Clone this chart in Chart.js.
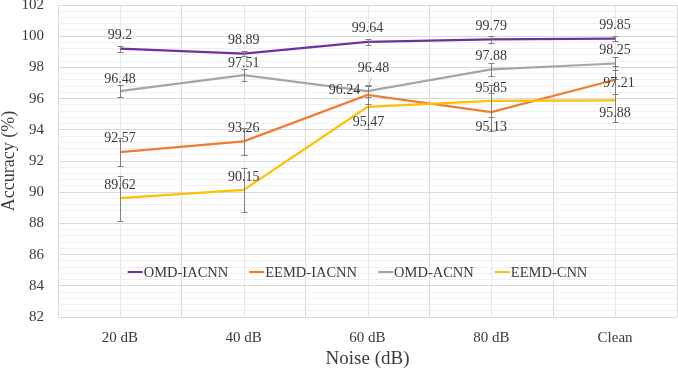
<!DOCTYPE html>
<html>
<head>
<meta charset="utf-8">
<script src="https://cdn.jsdelivr.net/npm/chart.js@4.4.1/dist/chart.umd.min.js"></script>
<style>
  html, body { margin: 0; padding: 0; background: #fff; }
</style>
</head>
<body>
<canvas id="chart" width="678" height="369"></canvas>
<script>
// Accuracy vs noise level, four models with error bars

const categories = ['20 dB', '40 dB', '60 dB', '80 dB', 'Clean'];
const yLabels = [82, 84, 86, 88, 90, 92, 94, 96, 98, 100, 102];

const omdIacnn = [99.2, 98.89, 99.64, 99.79, 99.85];
const eemdIacnn = [92.57, 93.26, 96.24, 95.13, 97.21];
const omdAcnn = [96.48, 97.51, 96.48, 97.88, 98.25];
const eemdCnn = [89.62, 90.15, 95.47, 95.85, 95.88];

// error bar half-lengths
const omdIacnnErr = [0.2, 0.15, 0.18, 0.2, 0.15];
const eemdIacnnErr = [0.9, 0.88, 0.6, 1.2, 0.9];
const omdAcnnErr = [0.36, 0.37, 0.35, 0.4, 0.4];
const eemdCnnErr = [1.45, 1.4, 1.4, 1.0, 1.4];

// data label placement, px offset from the point
const omdIacnnLab = [[0, -13], [0, -13], [0, -13], [0, -13], [0, -13]];
const eemdIacnnLab = [[0, -14], [0, -13], [-23, -5], [0, 15], [4, 4]];
const omdAcnnLab = [[0, -12], [0, -12], [6, -23], [0, -13], [0, -13]];
const eemdCnnLab = [[0, -13], [0, -13], [1, 15], [0, -13], [0, 13]];
const omdAcnnLeader = [null, null, [4, -14, 1, -5], null, null];

const SERIF = '"Liberation Serif", "Times New Roman", serif';
const TEXT = '#3a3a3a';

const series = [
  { name: 'OMD-IACNN', data: omdIacnn, err: omdIacnnErr, color: '#7030A0', lab: omdIacnnLab },
  { name: 'EEMD-IACNN', data: eemdIacnn, err: eemdIacnnErr, color: '#ED7D31', lab: eemdIacnnLab },
  { name: 'OMD-ACNN', data: omdAcnn, err: omdAcnnErr, color: '#A5A5A5', lab: omdAcnnLab, leader: omdAcnnLeader },
  { name: 'EEMD-CNN', data: eemdCnn, err: eemdCnnErr, color: '#FFC000', lab: eemdCnnLab }
];

const isMajor = (v) => {
  const r = Math.round(v);
  return Math.abs(v - r) < 1e-6 && yLabels.includes(r);
};

// vertical lines through the category centres (Excel minor gridlines)
const centerLines = {
  id: 'centerLines',
  beforeDatasetsDraw(chart) {
    const { ctx, chartArea } = chart;
    const x = chart.scales.x;
    ctx.save();
    ctx.strokeStyle = '#e6e6e6';
    ctx.lineWidth = 1;
    categories.forEach((c, i) => {
      const px = Math.round(x.getPixelForValue(i)) + 0.5;
      ctx.beginPath();
      ctx.moveTo(px, chartArea.top);
      ctx.lineTo(px, chartArea.bottom);
      ctx.stroke();
    });
    ctx.restore();
  }
};

const errorBars = {
  id: 'errorBars',
  afterDatasetsDraw(chart) {
    const ctx = chart.ctx;
    const y = chart.scales.y;
    ctx.save();
    ctx.strokeStyle = '#808080';
    ctx.lineWidth = 1;
    chart.data.datasets.forEach((ds, i) => {
      chart.getDatasetMeta(i).data.forEach((pt, j) => {
        const v = ds.data[j], e = ds.err[j];
        const x = Math.round(pt.x) + 0.5;
        const y1 = Math.round(y.getPixelForValue(v + e)) + 0.5;
        const y2 = Math.round(y.getPixelForValue(v - e)) + 0.5;
        ctx.beginPath();
        ctx.moveTo(x, y1); ctx.lineTo(x, y2);
        ctx.moveTo(x - 3, y1); ctx.lineTo(x + 3, y1);
        ctx.moveTo(x - 3, y2); ctx.lineTo(x + 3, y2);
        ctx.stroke();
      });
    });
    ctx.restore();
  }
};

const dataLabels = {
  id: 'dataLabels',
  afterDatasetsDraw(chart) {
    const ctx = chart.ctx;
    ctx.save();
    ctx.font = '14px ' + SERIF;
    ctx.fillStyle = TEXT;
    ctx.textAlign = 'center';
    ctx.textBaseline = 'middle';
    series.forEach((s, i) => {
      chart.getDatasetMeta(i).data.forEach((pt, j) => {
        const [dx, dy] = s.lab[j];
        ctx.fillText(String(s.data[j]), pt.x + dx, pt.y + dy);
        if (s.leader && s.leader[j]) {
          const [x1, y1, x2, y2] = s.leader[j];
          ctx.strokeStyle = '#a5a5a5';
          ctx.lineWidth = 0.75;
          ctx.beginPath();
          ctx.moveTo(pt.x + x1, pt.y + y1);
          ctx.lineTo(pt.x + x2, pt.y + y2);
          ctx.stroke();
        }
      });
    });
    ctx.restore();
  }
};

// legend sits inside the plot, near the bottom
const insideLegend = {
  id: 'insideLegend',
  afterDraw(chart) {
    const { ctx, chartArea } = chart;
    ctx.save();
    ctx.font = '14.5px ' + SERIF;
    ctx.textBaseline = 'middle';
    ctx.textAlign = 'left';
    const lineLen = 16, gap = 21;
    const widths = series.map(s => lineLen + ctx.measureText(s.name).width);
    const total = widths.reduce((a, b) => a + b, 0) + gap * (series.length - 1);
    let x = (chartArea.left + chartArea.right) / 2 - 10 - total / 2;
    const y = chartArea.bottom - 45;
    series.forEach((s, i) => {
      ctx.strokeStyle = s.color;
      ctx.lineWidth = 2;
      ctx.beginPath();
      ctx.moveTo(x, y);
      ctx.lineTo(x + lineLen - 1, y);
      ctx.stroke();
      ctx.fillStyle = TEXT;
      ctx.fillText(s.name, x + lineLen, y + 1);
      x += widths[i] + gap;
    });
    ctx.restore();
  }
};

new Chart(document.getElementById('chart'), {
  type: 'line',
  data: {
    labels: categories,
    datasets: series.map((s, i) => ({
      label: s.name,
      data: s.data,
      err: s.err,
      borderColor: s.color,
      backgroundColor: s.color,
      borderWidth: 2.25,
      pointRadius: 0,
      fill: false,
      tension: 0,
      order: series.length - 1 - i
    }))
  },
  options: {
    responsive: false,
    animation: false,
    layout: { padding: { top: 5, right: 1, left: 0, bottom: 0 } },
    plugins: {
      legend: { display: false },
      tooltip: { enabled: false }
    },
    scales: {
      x: {
        offset: true,
        grid: { color: '#d9d9d9', offset: true, drawTicks: false },
        border: { display: false },
        ticks: { font: { family: SERIF, size: 15 }, color: TEXT, padding: 12 },
        title: {
          display: true,
          text: 'Noise (dB)',
          font: { family: SERIF, size: 19, lineHeight: 1 },
          color: TEXT,
          padding: { top: 0, bottom: 0 }
        },
        afterFit(scale) {
          scale.height = 52;
          scale.paddingLeft = 0;
          scale.paddingRight = 0;
        }
      },
      y: {
        min: 82,
        max: 102,
        grid: {
          drawTicks: false,
          color: (c) => isMajor(c.tick.value) ? '#d9d9d9' : '#f0f0f0'
        },
        border: { display: false },
        ticks: {
          stepSize: 0.4,
          autoSkip: false,
          padding: 14,
          font: { family: SERIF, size: 15 },
          color: TEXT,
          callback: (v) => isMajor(v) ? String(Math.round(v)) : ''
        },
        title: {
          display: true,
          text: 'Accuracy (%)',
          font: { family: SERIF, size: 18, lineHeight: 1 },
          color: TEXT,
          padding: 0
        },
        afterFit(scale) {
          scale.width = 58;
          scale.paddingTop = 0;
          scale.paddingBottom = 0;
        }
      }
    }
  },
  plugins: [centerLines, errorBars, dataLabels, insideLegend]
});
</script>
</body>
</html>
